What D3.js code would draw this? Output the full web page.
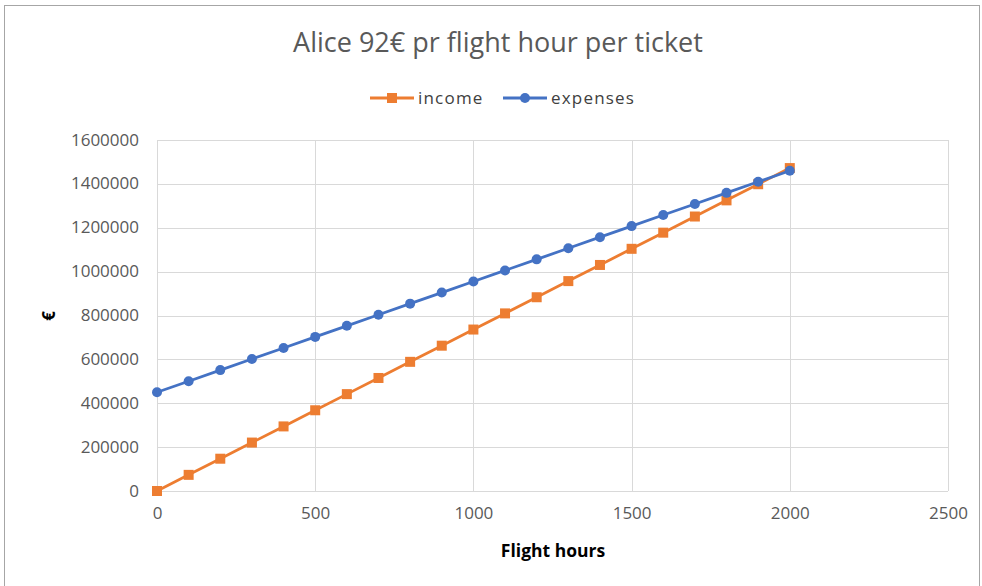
<!DOCTYPE html>
<html>
<head>
<meta charset="utf-8">
<script src="https://cdn.jsdelivr.net/npm/d3@7"></script>
<style>
  html, body { margin: 0; padding: 0; background: #fff; }
  svg { display: block; }
  text { font-family: "Liberation Sans Narrow", "Open Sans", "Liberation Sans", sans-serif; }
</style>
</head>
<body>
<svg id="chart" width="982" height="586"></svg>
<script>
// Flight hours on the x axis
const hours = [0, 100, 200, 300, 400, 500, 600, 700, 800, 900, 1000,
               1100, 1200, 1300, 1400, 1500, 1600, 1700, 1800, 1900, 2000];
// Income in euros at each number of flight hours
const income = [0, 73600, 147200, 220800, 294400, 368000, 441600, 515200, 588800, 662400, 736000,
                809600, 883200, 956800, 1030400, 1104000, 1177600, 1251200, 1324800, 1398400, 1472000];
// Expenses in euros at each number of flight hours
const expenses = [450000, 500500, 551000, 601500, 652000, 702500, 753000, 803500, 854000, 904500, 955000,
                  1005500, 1056000, 1106500, 1157000, 1207500, 1258000, 1308500, 1359000, 1409500, 1460000];
const xTicks = [0, 500, 1000, 1500, 2000, 2500];
const yTicks = [0, 200000, 400000, 600000, 800000, 1000000, 1200000, 1400000, 1600000];

const svg = d3.select("#chart");
const orange = "#ED7D31", blue = "#4472C4";

// Chart frame
svg.append("rect").attr("x", 4.5).attr("y", 5.5).attr("width", 975).attr("height", 590)
  .attr("fill", "#fff").attr("stroke", "#a6a6a6").attr("stroke-width", 1);

const plotL = 157, plotR = 948, plotT = 140, plotB = 491;
const x = d3.scaleLinear().domain([0, 2500]).range([plotL, plotR]);
const y = d3.scaleLinear().domain([0, 1600000]).range([plotB, plotT]);

// Gridlines
const grid = svg.append("g");
grid.selectAll("line.h").data(yTicks).join("line")
  .attr("x1", plotL).attr("x2", plotR)
  .attr("y1", d => Math.round(y(d)) + 0.5).attr("y2", d => Math.round(y(d)) + 0.5)
  .attr("stroke", "#d9d9d9").attr("stroke-width", 1);
grid.selectAll("line.v").data(xTicks).join("line")
  .attr("y1", plotT).attr("y2", plotB)
  .attr("x1", d => Math.round(x(d)) + 0.5).attr("x2", d => Math.round(x(d)) + 0.5)
  .attr("stroke", "#d9d9d9").attr("stroke-width", 1);

// Axes (labels only; gridlines stand in for axis lines)
const xAxis = svg.append("g").attr("transform", `translate(0,${plotB})`)
  .call(d3.axisBottom(x).tickValues(xTicks).tickSize(0).tickPadding(16).tickFormat(d3.format("d")));
const yAxis = svg.append("g").attr("transform", `translate(${plotL},0)`)
  .call(d3.axisLeft(y).tickValues(yTicks).tickSize(0).tickPadding(18).tickFormat(d3.format("d")));
[xAxis, yAxis].forEach(a => {
  a.select(".domain").remove();
  a.selectAll("text").attr("fill", "#595959").style("font-size", "17px")
    .style("font-family", "\"Liberation Sans Narrow\", \"Open Sans\", sans-serif");
});
yAxis.selectAll("text").attr("dy", "0.3em");

// Series
const seriesList = [
  { name: "income", values: income, color: orange, marker: "square" },
  { name: "expenses", values: expenses, color: blue, marker: "circle" }
];
const line = d3.line().x((d, i) => x(hours[i])).y(d => y(d));

function drawMarker(g, shape, color) {
  if (shape === "square") {
    g.append("rect").attr("x", -5).attr("y", -5).attr("width", 10).attr("height", 10).attr("fill", color);
  } else {
    g.append("circle").attr("r", 5).attr("fill", color);
  }
}

seriesList.forEach(s => {
  svg.append("path").datum(s.values).attr("d", line)
    .attr("fill", "none").attr("stroke", s.color).attr("stroke-width", 2.8)
    .attr("stroke-linejoin", "round");
  s.values.forEach((v, i) => {
    const g = svg.append("g").attr("transform", `translate(${x(hours[i])},${y(v)})`);
    drawMarker(g, s.marker, s.color);
  });
});

// Title
svg.append("text").attr("x", 498).attr("y", 52).attr("text-anchor", "middle")
  .attr("fill", "#595959").style("font-size", "27px")
  .text("Alice 92€ pr flight hour per ticket");

// Legend
const legend = [
  { name: "income", color: orange, marker: "square", x: 370 },
  { name: "expenses", color: blue, marker: "circle", x: 503 }
];
legend.forEach(l => {
  const g = svg.append("g").attr("transform", `translate(${l.x},98)`);
  g.append("line").attr("x1", 0).attr("x2", 44).attr("stroke", l.color).attr("stroke-width", 2.8);
  const m = g.append("g").attr("transform", "translate(22,0)");
  drawMarker(m, l.marker, l.color);
  g.append("text").attr("x", 48).attr("y", 6).attr("fill", "#404040")
    .style("font-size", "17px").style("letter-spacing", "1.2px").text(l.name);
});

// Axis titles
svg.append("text").attr("x", 553).attr("y", 557).attr("text-anchor", "middle")
  .attr("fill", "#000").style("font-size", "17.5px").style("font-weight", "bold")
  .text("Flight hours");
svg.append("text").attr("transform", "translate(55,316) rotate(-90)").attr("text-anchor", "middle")
  .attr("fill", "#000").style("font-size", "17px").style("font-weight", "bold")
  .text("€");
</script>
</body>
</html>
